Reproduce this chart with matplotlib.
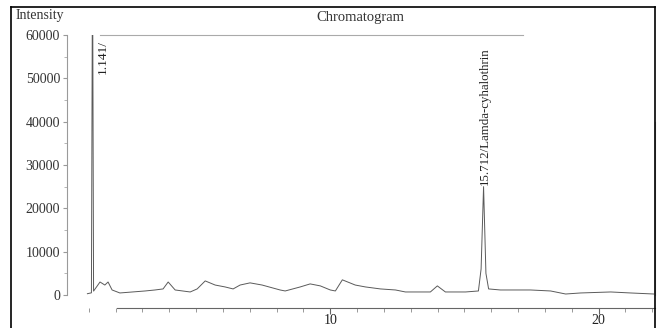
import matplotlib.pyplot as plt
from matplotlib.lines import Line2D
from matplotlib.ticker import MultipleLocator

# retention time (min) and intensity
ret_time = [
    0.95, 1.10, 1.141, 1.18, 1.42, 1.60, 1.72, 1.87, 2.16, 3.10, 3.47, 3.77,
    3.96, 4.22, 4.78, 5.04, 5.34, 5.71, 6.08, 6.38, 6.64, 7.01, 7.46, 8.13,
    8.32, 8.88, 9.25, 9.63, 10.00, 10.19, 10.45, 10.93, 11.31, 11.87, 12.43,
    12.80, 13.73, 13.99, 14.29, 15.04, 15.52, 15.62, 15.712, 15.80, 15.90,
    16.34, 17.46, 18.21, 18.77, 19.33, 20.45, 21.19, 22.05,
]
intensity = [
    300, 500, 80000, 900, 3000, 2300, 3000, 1160, 470, 930, 1160, 1400,
    3000, 1160, 700, 1400, 3250, 2300, 1860, 1400, 2300, 2800, 2300, 1160,
    930, 1860, 2560, 2100, 1160, 930, 3500, 2300, 1860, 1400, 1160,
    700, 700, 2100, 700, 700, 930, 6000, 25000, 5000, 1400,
    1160, 1160, 930, 230, 470, 700, 470, 230,
]

peak_labels = ["1.141/", "15.712/Lamda-cyhalothrin"]
peak_times = [1.141, 15.712]

y_ticks = [0, 10000, 20000, 30000, 40000, 50000, 60000]
x_ticks = [10, 20]

SERIF = ["Liberation Serif", "DejaVu Serif"]
plt.rcParams["font.family"] = SERIF


def main():
    fig = plt.figure(figsize=(6.62, 3.28), dpi=100)
    ax = fig.add_axes([67 / 662, 33 / 328, 588 / 662, 260 / 328])

    ax.plot(ret_time, intensity, color="#5a5a5a", linewidth=0.7)

    ax.set_xlim(0.19, 22.1)
    ax.set_ylim(0, 60000)

    # peak labels
    ax.text(peak_times[0] + 0.4, 58900, peak_labels[0], rotation=90,
            ha="center", va="top", fontsize=9.5, color="#222222")
    ax.text(peak_times[1] + 0.05, 25300, peak_labels[1], rotation=90,
            ha="center", va="bottom", fontsize=9.3, color="#222222")

    # axes styling like the instrument print-out
    ax.spines["left"].set_color("#9a9a9a")
    ax.spines["left"].set_linewidth(0.8)
    ax.spines["top"].set_color("#aaaaaa")
    ax.spines["top"].set_linewidth(0.8)
    ax.spines["top"].set_bounds(1.42, 17.2)
    ax.spines["right"].set_color("#b0b0b0")
    ax.spines["right"].set_linewidth(0.8)
    ax.spines["right"].set_bounds(0, 40000)
    ax.spines["bottom"].set_color("#666666")
    ax.spines["bottom"].set_linewidth(0.8)
    ax.spines["bottom"].set_position(("outward", 9))
    ax.spines["bottom"].set_bounds(2.05, 22.1)

    ax.set_yticks(y_ticks)
    ax.set_yticklabels([str(v) for v in y_ticks])
    ax.yaxis.set_minor_locator(MultipleLocator(5000))
    ax.tick_params(axis="y", which="major", length=3, pad=2,
                   color="#999999", labelsize=10, labelcolor="#333333")
    ax.tick_params(axis="y", which="minor", length=2, color="#aaaaaa")

    ax.set_xticks(x_ticks)
    ax.set_xticklabels([str(v) for v in x_ticks])
    ax.xaxis.set_minor_locator(MultipleLocator(1))
    ax.tick_params(axis="x", which="major", length=4, pad=1,
                   color="#666666", labelsize=10, labelcolor="#222222")
    ax.tick_params(axis="x", which="minor", length=3, color="#888888")

    fig.text(40 / 662, 1 - 16 / 328, "Intensity", ha="center", va="center",
             fontsize=10, color="#333333")
    fig.text(360 / 662, 1 - 17 / 328, "Chromatogram", ha="center",
             va="center", fontsize=10.5, color="#333333")

    # outer frame of the scanned figure (left, top, right)
    x0, x1, y1 = 11 / 662, 655 / 662, 1 - 7 / 328
    for xs, ys in [([x0, x0], [0, y1]), ([x0, x1], [y1, y1]),
                   ([x1, x1], [0, y1])]:
        fig.add_artist(Line2D(xs, ys, transform=fig.transFigure,
                              color="black", linewidth=1.2))

    fig.savefig("out.png", dpi=100, facecolor="white")
    plt.close(fig)


if __name__ == "__main__":
    main()
